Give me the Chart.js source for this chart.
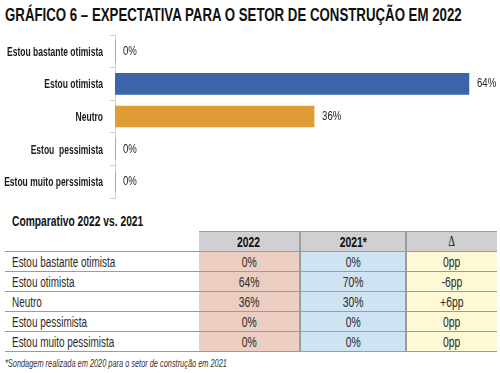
<!DOCTYPE html>
<html>
<head>
<meta charset="utf-8">
<script src="https://cdn.jsdelivr.net/npm/chart.js@4"></script>
<style>
  body { margin: 0; width: 500px; height: 373px; background: #fff; overflow: hidden; position: relative; font-family: 'Liberation Sans', Arial, sans-serif; color: #2a2a2a; }
  .fit { white-space: nowrap; transform-origin: left top; display: inline-block; }
  #titulo { position: absolute; left: 5px; top: 4px; font-size: 19px; font-weight: bold; color: #111; }
  #wrap { position: absolute; left: 0; top: 30px; width: 500px; height: 172px; }
  #comp { position: absolute; left: 12px; top: 213px; font-size: 14.5px; font-weight: bold; color: #111; }
  table { position: absolute; left: 5px; top: 231px; border-collapse: collapse; font-size: 14px; }
  td, th { height: 19px; padding: 0; border-top: 1.5px solid #9c9c9c; border-bottom: 1.5px solid #9c9c9c; white-space: nowrap; }
  th { font-weight: bold; color: #111; background: #d0d0d2; border-left: 2px solid #9c9c9c; text-align: center; }
  th.vazio { background: none; border: none; border-bottom: 1.5px solid #9c9c9c; }
  td.rot { width: 187px; padding-left: 7px; text-align: left; }
  td.c22 { background: #ebcdc1; width: 100px; text-align: center; }
  td.c21 { background: #cfe3f3; width: 104px; text-align: center; border-left: 2px solid #9c9c9c; }
  td.cd { background: #fdf9d4; width: 90px; text-align: center; border-left: 2px solid #9c9c9c; }
  .cx { display: inline-block; transform: scaleX(0.74); transform-origin: center; }
  .lx { display: inline-block; transform: scaleX(0.71); transform-origin: left center; }
  #nota { position: absolute; left: 5px; top: 357px; font-size: 10.5px; font-style: italic; color: #333; }
</style>
</head>
<body>
<div id="titulo" class="fit">GRÁFICO 6 – EXPECTATIVA PARA O SETOR DE CONSTRUÇÃO EM 2022</div>
<div id="wrap"><canvas id="grafico"></canvas></div>
<div id="comp" class="fit">Comparativo 2022 vs. 2021</div>
<table id="tabela"></table>
<div id="nota" class="fit">*Sondagem realizada em 2020 para o setor de construção em 2021</div>
<script>
const categorias = ['Estou bastante otimista', 'Estou otimista', 'Neutro', 'Estou  pessimista', 'Estou muito perssimista'];
const valores2022 = [0, 64, 36, 0, 0];
const coresBarras = ['#3b64a9', '#3b64a9', '#df9c37', '#3b64a9', '#3b64a9'];

const linhasTabela = ['Estou bastante otimista', 'Estou otimista', 'Neutro', 'Estou pessimista', 'Estou muito pessimista'];
const colunasTabela = ['2022', '2021*', 'Δ'];
const tab2022 = ['0%', '64%', '36%', '0%', '0%'];
const tab2021 = ['0%', '70%', '30%', '0%', '0%'];
const tabDelta = ['0pp', '-6pp', '+6pp', '0pp', '0pp'];

// texto condensado: encaixa na largura do original
function encaixa(id, largura) {
  const el = document.getElementById(id);
  el.style.transform = 'scaleX(' + (largura / el.offsetWidth) + ')';
}
encaixa('titulo', 457);
encaixa('comp', 131);
encaixa('nota', 222);

// tabela
let html = '<tr><th class="vazio"></th>';
colunasTabela.forEach((c, i) => {
  const st = i == 0 ? ' style="border-left:none"' : (i == 2 ? ' style="font-weight:normal;font-family:\'Liberation Serif\',serif"' : '');
  html += '<th' + st + '><span class="cx">' + c + '</span></th>';
});
html += '</tr>';
linhasTabela.forEach((l, i) => {
  html += '<tr><td class="rot"><span class="lx">' + l + '</span></td>' +
    '<td class="c22"><span class="cx">' + tab2022[i] + '</span></td>' +
    '<td class="c21"><span class="cx">' + tab2021[i] + '</span></td>' +
    '<td class="cd"><span class="cx">' + tabDelta[i] + '</span></td></tr>';
});
document.getElementById('tabela').innerHTML = html;

// rotulos do eixo y e valores, desenhados condensados
const rotulos = {
  id: 'rotulos',
  afterDatasetsDraw(chart) {
    const ctx = chart.ctx;
    const y = chart.scales.y;
    ctx.save();
    ctx.textBaseline = 'middle';
    ctx.fillStyle = '#1a1a1a';
    ctx.font = 'bold 13px "Liberation Sans", sans-serif';
    const k = 96 / ctx.measureText(categorias[0]).width;
    ctx.textAlign = 'right';
    categorias.forEach((c, i) => {
      ctx.save();
      ctx.translate(y.right - 12, y.getPixelForValue(i) + 1);
      ctx.scale(k, 1);
      ctx.fillText(c, 0, 0);
      ctx.restore();
    });
    ctx.font = '13px "Liberation Sans", sans-serif';
    ctx.textAlign = 'left';
    ctx.fillStyle = '#222';
    chart.getDatasetMeta(0).data.forEach((bar, i) => {
      ctx.save();
      ctx.translate(bar.x + 8, bar.y);
      ctx.scale(0.74, 1);
      ctx.fillText(valores2022[i] + '%', 0, 0);
      ctx.restore();
    });
    ctx.restore();
  }
};

new Chart(document.getElementById('grafico').getContext('2d'), {
  type: 'bar',
  data: {
    labels: categorias,
    datasets: [{
      data: valores2022,
      backgroundColor: coresBarras,
      barThickness: 21
    }]
  },
  options: {
    indexAxis: 'y',
    responsive: true,
    maintainAspectRatio: false,
    animation: false,
    layout: { padding: { top: 5, bottom: 4, right: 20, left: 4 } },
    plugins: { legend: { display: false }, tooltip: { enabled: false } },
    scales: {
      x: { display: false, min: 0, max: 66 },
      y: {
        afterFit: s => { s.width = 111; },
        grid: { drawOnChartArea: false, color: '#d8d2b4', tickLength: 5, offset: true },
        border: { color: '#d8d2b4', width: 1 },
        ticks: { display: false }
      }
    }
  },
  plugins: [rotulos]
});
</script>
</body>
</html>
